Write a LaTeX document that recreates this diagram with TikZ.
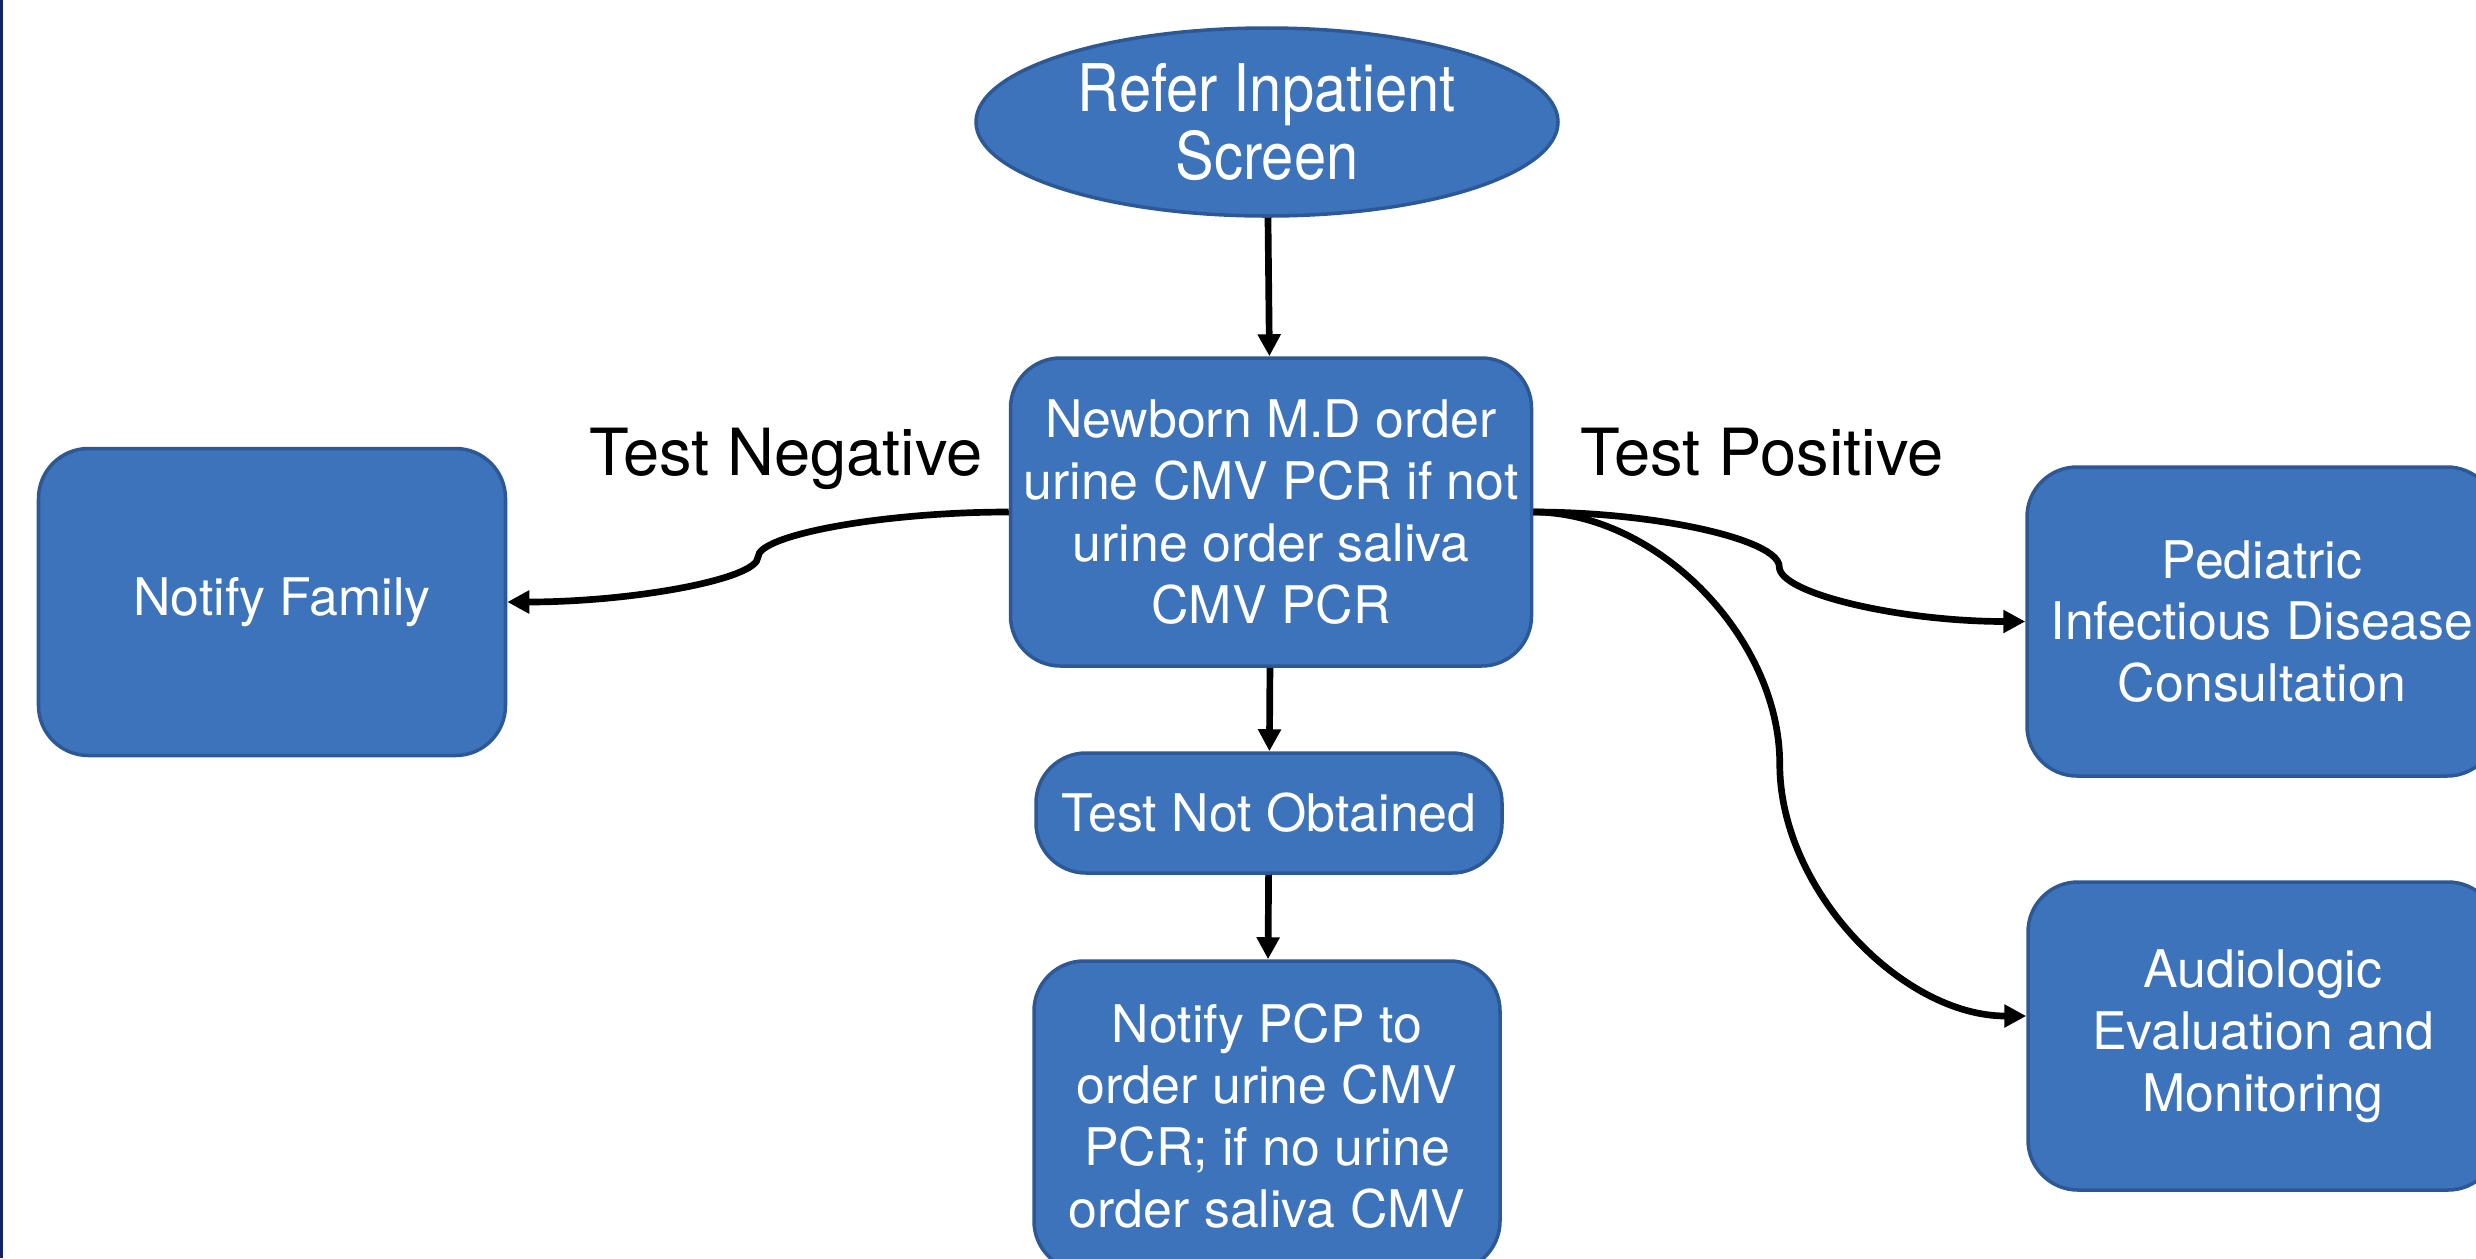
\documentclass[tikz,border=0pt]{standalone}
\usepackage{fontspec}
\setmainfont{TeX Gyre Heros}
\newfontfamily\ovalfont[FakeStretch=0.88]{TeX Gyre Heros}
\usetikzlibrary{shapes.geometric,arrows.meta,calc}

\definecolor{boxblue}{RGB}{60,115,186}
\definecolor{boxedge}{RGB}{45,88,150}
\definecolor{pageedge}{RGB}{20,35,105}

\tikzset{
  >={Triangle[length=0.22cm,width=0.22cm]},
  flowbox/.style={draw=boxedge, line width=1pt, fill=boxblue, rounded corners=0.5cm,
    text=white, align=center, inner sep=0pt, font=\fontsize{14.75}{17.6}\selectfont},
  startoval/.style={ellipse, draw=boxedge, line width=1pt, fill=boxblue,
    text=white, align=center, inner sep=0pt, font=\ovalfont\fontsize{18.7}{19.6}\selectfont},
  branchlabel/.style={anchor=base, font=\fontsize{18.5}{21}\selectfont},
  arrowline/.style={->, line width=1.9pt},
}

\begin{document}
\begin{tikzpicture}
\path[use as bounding box, fill=white] (0,0) rectangle (24.76,-12.58);
\clip (0,0) rectangle (24.76,-12.58);
\fill[pageedge] (0,0) rectangle (0.03,-12.58);

\node [startoval, minimum width=5.82cm, minimum height=1.88cm] (refer) at (12.67,-1.22) {Refer Inpatient\\Screen};
\node [flowbox, minimum width=5.21cm, minimum height=3.08cm] (newborn) at (12.71,-5.12) {Newborn M.D order\\urine CMV PCR if not\\urine order saliva\\CMV PCR};
\node [flowbox, minimum width=4.67cm, minimum height=3.07cm] (family) at (2.72,-6.02) {\hspace*{0.2cm}Notify Family};
\node [flowbox, minimum width=4.66cm, minimum height=1.20cm] (notobtained) at (12.69,-8.13) {Test Not Obtained};
\node [flowbox, minimum width=4.66cm, minimum height=3.1cm] (pcp) at (12.67,-11.16) {Notify PCP to\\order urine CMV\\PCR; if no urine\\order saliva CMV};
\node [flowbox, minimum width=4.7cm, minimum height=3.09cm] (pediatric) at (22.62,-6.215) {Pediatric\\Infectious Disease\\Consultation};
\node [flowbox, minimum width=4.7cm, minimum height=3.08cm] (audio) at (22.63,-10.36) {Audiologic\\Evaluation and\\Monitoring};

\node [branchlabel] (neg) at (7.86,-4.75) {Test Negative};
\node [branchlabel] (pos) at (17.62,-4.75) {Test Positive};

% bends of the curved connectors
\coordinate (negbend) at ($(newborn.west)!0.5!(family.east)$);
\coordinate (posbend) at ($(newborn.east)!0.5!(pediatric.west)$);
\coordinate (audiobend) at ($(newborn.east)!0.5!([yshift=2mm]audio.west)$);

\draw [arrowline] (refer) to (newborn);
\draw [arrowline] (newborn) to (notobtained);
\draw [arrowline] (notobtained) to (pcp);

\draw [arrowline] (newborn.west) to [out=180, in=90, out distance=1.26cm, in distance=0.22cm] (negbend)
  to [out=-90, in=0, out distance=0.22cm, in distance=1.26cm] (family.east);
\draw [arrowline] (newborn.east) to [out=0, in=90, out distance=1.24cm, in distance=0.27cm] (posbend)
  to [out=-90, in=180, out distance=0.27cm, in distance=1.24cm] (pediatric.west);
\draw [arrowline] (newborn.east) to [out=0, in=90, out distance=1.24cm, in distance=1.26cm] (audiobend)
  to [out=-90, in=180, out distance=1.26cm, in distance=1.24cm] ([yshift=2mm]audio.west);
\end{tikzpicture}
\end{document}
